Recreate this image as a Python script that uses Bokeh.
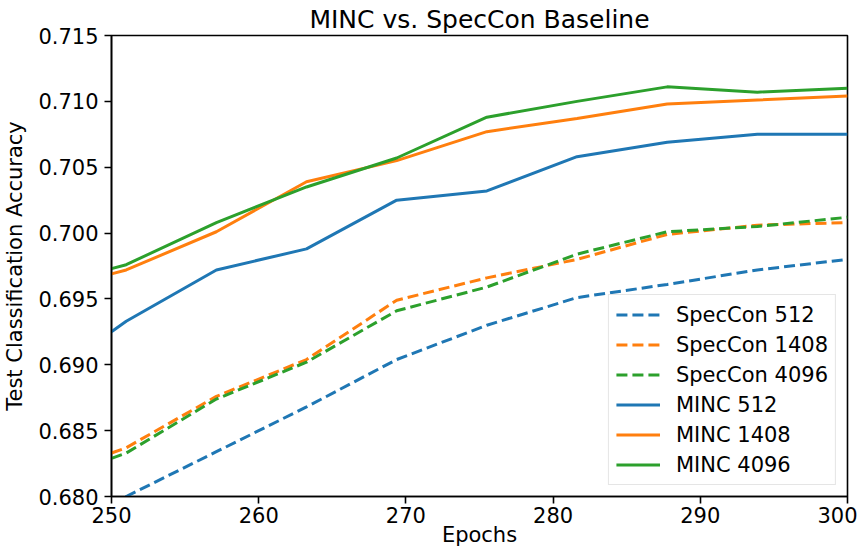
from bokeh.plotting import figure
from bokeh.models import Range1d, FixedTicker, NumeralTickFormatter, Legend, LegendItem
from bokeh.embed import file_html
from bokeh.resources import INLINE

epochs = [250, 251, 257.125, 263.25, 269.375, 275.5, 281.625, 287.75, 293.875, 300]

speccon_512 = [0.6794, 0.6800, 0.6834, 0.6868, 0.6904, 0.6930, 0.6951, 0.6961, 0.6972, 0.6980]
speccon_1408 = [0.6833, 0.6837, 0.6876, 0.6904, 0.6949, 0.6966, 0.6980, 0.6999, 0.7006, 0.7008]
speccon_4096 = [0.6829, 0.6833, 0.6874, 0.6902, 0.6941, 0.6959, 0.6984, 0.7001, 0.7005, 0.7012]
minc_512 = [0.6925, 0.6933, 0.6972, 0.6988, 0.7025, 0.7032, 0.7058, 0.7069, 0.7075, 0.7075]
minc_1408 = [0.6969, 0.6972, 0.7001, 0.7039, 0.7055, 0.7077, 0.7087, 0.7098, 0.7101, 0.7104]
minc_4096 = [0.6973, 0.6976, 0.7008, 0.7035, 0.7057, 0.7088, 0.7100, 0.7111, 0.7107, 0.7110]

series_labels = ["SpecCon 512", "SpecCon 1408", "SpecCon 4096", "MINC 512", "MINC 1408", "MINC 4096"]
x_ticks = [250, 260, 270, 280, 290, 300]
y_ticks = [0.680, 0.685, 0.690, 0.695, 0.700, 0.705, 0.710, 0.715]

colors = ["#1f77b4", "#ff7f0e", "#2ca02c"]
FONT = "DejaVu Sans"

p = figure(width=857, height=549, output_backend="svg", toolbar_location=None,
           x_range=Range1d(250, 300), y_range=Range1d(0.680, 0.715),
           min_border_left=111, min_border_right=10, min_border_top=35, min_border_bottom=52,
           title="MINC vs. SpecCon Baseline")

p.title.text_font = FONT
p.title.text_font_size = "25px"
p.title.text_font_style = "normal"
p.title.align = "center"
p.title.text_color = "#000000"
p.title.standoff = 3
p.title.offset = 0

p.xgrid.visible = False
p.ygrid.visible = False
p.outline_line_color = "#000000"
p.outline_line_width = 1.6
p.outline_line_alpha = 1.0
p.background_fill_color = "white"
p.border_fill_color = "white"

p.xaxis.ticker = FixedTicker(ticks=x_ticks)
p.yaxis.ticker = FixedTicker(ticks=y_ticks)
p.yaxis.formatter = NumeralTickFormatter(format="0.000")
for ax in (p.xaxis, p.yaxis):
    ax.major_label_text_font = FONT
    ax.major_label_text_font_size = "21px"
    ax.major_label_text_color = "#000000"
    ax.axis_label_text_font = FONT
    ax.axis_label_text_font_size = "21px"
    ax.axis_label_text_font_style = "normal"
    ax.axis_label_text_color = "#000000"
    ax.major_tick_in = 0
    ax.major_tick_out = 7
    ax.major_tick_line_width = 1.6
    ax.major_tick_line_color = "#000000"
    ax.minor_tick_line_color = None
    ax.axis_line_color = "#000000"
    ax.axis_line_width = 1.6
p.xaxis.major_label_standoff = 3
p.xaxis.axis_label_standoff = -3
p.yaxis.major_label_standoff = 6
p.yaxis.axis_label_standoff = 8
p.xaxis.axis_label = "Epochs"
p.yaxis.axis_label = "Test Classification Accuracy"

data = [speccon_512, speccon_1408, speccon_4096, minc_512, minc_1408, minc_4096]
items = []
for i, (ys, lab) in enumerate(zip(data, series_labels)):
    c = colors[i % 3]
    dash = "11 5" if i < 3 else "solid"
    r = p.line(epochs, ys, line_color=c, line_width=3, line_dash=dash)
    items.append(LegendItem(label=lab, renderers=[r]))

legend = Legend(items=items, location="bottom_right")
legend.label_text_font = FONT
legend.label_text_font_size = "21px"
legend.label_text_color = "#000000"
legend.glyph_width = 44
legend.glyph_height = 25
legend.label_height = 25
legend.label_standoff = 16
legend.spacing = 5
legend.padding = 7
legend.margin = 11
legend.border_line_color = "#cccccc"
legend.border_line_width = 1.2
legend.background_fill_alpha = 0.8
p.add_layout(legend, "center")

open("out.html", "w").write(file_html(p, INLINE))
